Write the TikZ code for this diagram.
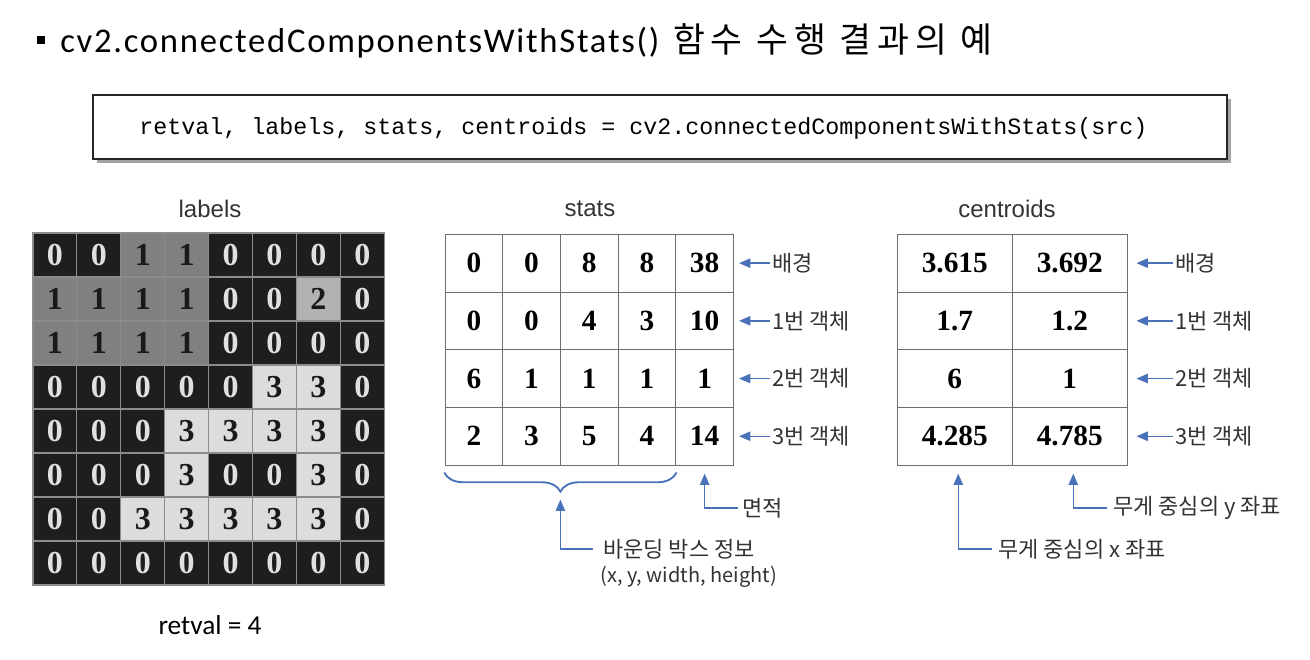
\documentclass[tikz,border=0pt]{standalone}
\usepackage{fontspec}
\setmainfont{Liberation Serif}
\newfontfamily\krfont{Noto Sans CJK KR}
\newfontfamily\krtitlefont[LetterSpace=17]{Noto Sans CJK KR}
\newfontfamily\calfont{Carlito}
\newfontfamily\caltitlefont[LetterSpace=5]{Carlito}
\newfontfamily\headfont{Liberation Sans}
\newfontfamily\codefont{Liberation Mono}
\usetikzlibrary{arrows.meta,decorations.pathreplacing,shadows,calc}

\definecolor{bgcell}{HTML}{1F1D1E}
\definecolor{objone}{HTML}{7F8082}
\definecolor{objtwo}{HTML}{B2B2B2}
\definecolor{objthree}{HTML}{DBDCDD}
\definecolor{gridline}{HTML}{8C8C8C}
\definecolor{tableline}{HTML}{6E6E6E}
\definecolor{pointer}{HTML}{4A72B8}
\definecolor{softtext}{HTML}{333333}

\tikzset{
  % label-map cells
  gcell/.style={rectangle, draw=gridline, line width=0.8pt, inner sep=0pt,
    minimum width=32.9pt, minimum height=33pt,
    font=\fontsize{24}{24}\selectfont\bfseries},
  lv0/.style={fill=bgcell, text=white!88!black},
  lv1/.style={fill=objone, text=black!90},
  lv2/.style={fill=objtwo, text=black!90},
  lv3/.style={fill=objthree, text=black!90},
  % stats / centroids cells
  tcell/.style={rectangle, draw=tableline, line width=0.7pt, inner sep=0pt,
    minimum height=43.3pt, font=\fontsize{22}{22}\selectfont\bfseries},
  scell/.style={tcell, minimum width=43.3pt},
  ccell/.style={tcell, minimum width=86.3pt},
  heading/.style={font=\headfont\fontsize{18}{18}\selectfont, text=softtext},
  note/.style={font=\krfont\fontsize{16.5}{16.5}\selectfont, text=softtext,
    inner sep=0pt, anchor=west},
  ptr/.style={draw=pointer, line width=1.1pt,
    -{Triangle[length=8.5pt,width=7pt]}, color=pointer},
}

\begin{document}
\begin{tikzpicture}[x=0.75pt, y=-0.75pt]
\useasboundingbox (0,0) rectangle (1310,660);

% title line
\node[rectangle, fill=black, minimum size=6pt, inner sep=0pt] (bullet) at (41,40) {};
\node[anchor=base west, inner sep=0pt] (title) at (60,53)
  {\caltitlefont\fontsize{26}{26}\selectfont cv2.connectedComponentsWithStats()\krtitlefont\fontsize{26}{26}\selectfont\ 함수 수행 결과의 예};

% code box with drop shadow
\node[rectangle, draw=black!85, line width=0.9pt, fill=white,
  minimum width=850.5pt, minimum height=48pt,
  drop shadow={shadow xshift=3pt, shadow yshift=-3pt, fill=black!45, opacity=0.8}]
  (codebox) at (660,127) {};
\node[anchor=west, inner sep=0pt] (code) at (139,128)
  {\codefont\fontsize{17.5}{17.5}\selectfont retval, labels, stats, centroids = cv2.connectedComponentsWithStats(src)};

% headings
\node[heading] (hlabels) at (210,209) {labels};
\node[heading] (hstats) at (590,209) {stats};
\node[heading] (hcent) at (1007,209) {centroids};

% label map
\foreach \row [count=\r from 0] in {
  {0,0,1,1,0,0,0,0},
  {1,1,1,1,0,0,2,0},
  {1,1,1,1,0,0,0,0},
  {0,0,0,0,0,3,3,0},
  {0,0,0,3,3,3,3,0},
  {0,0,0,3,0,0,3,0},
  {0,0,3,3,3,3,3,0},
  {0,0,0,0,0,0,0,0}} {
  \foreach \v [count=\c from 0] in \row {
    \node[gcell, lv\v] (g-\r-\c) at ({33+43.9*(\c+0.5)}, {233+44*(\r+0.5)}) {\v};
  }
}
\node[inner sep=0pt, anchor=base] (retval) at (210,634)
  {\calfont\fontsize{20.5}{20.5}\selectfont retval = 4};

% stats table
\foreach \row [count=\r from 0] in {
  {0,0,8,8,38},
  {0,0,4,3,10},
  {6,1,1,1,1},
  {2,3,5,4,14}} {
  \foreach \v [count=\c from 0] in \row {
    \node[scell] (s-\r-\c) at ({445+57.7*(\c+0.5)}, {234.3+57.7*(\r+0.5)}) {\v};
  }
}

% centroids table
\foreach \a/\b [count=\r from 0] in {3.615/3.692, 1.7/1.2, 6/1, 4.285/4.785} {
  \node[ccell] (c-\r-0) at ({897.3+115*0.5}, {234.3+57.7*(\r+0.5)}) {\a};
  \node[ccell] (c-\r-1) at ({897.3+115*1.5}, {234.3+57.7*(\r+0.5)}) {\b};
}

% row notes and their pointers
\foreach \t [count=\r from 0] in {배경, 1번 객체, 2번 객체, 3번 객체} {
  \node[note] (sn-\r) at (772, {234.3+57.7*(\r+0.5)}) {\t};
  \draw[ptr] ([xshift=-1.5pt]sn-\r.west) -- ([xshift=3.8pt]s-\r-4.east);
  \node[note] (cn-\r) at (1175, {234.3+57.7*(\r+0.5)}) {\t};
  \draw[ptr] ([xshift=-1.5pt]cn-\r.west) -- ([xshift=6.5pt]c-\r-1.east);
}

% bounding-box brace
\draw[draw=pointer, line width=1.4pt, line cap=round,
  decorate, decoration={brace, mirror, amplitude=14pt}]
  ([yshift=-5.5pt]s-3-0.south west) -- ([yshift=-5.5pt]s-3-3.south east);
\coordinate (bracetip) at ($(s-3-0.south west)!0.5!(s-3-3.south east) + (0,34)$);
\node[note] (bbox) at (603,549) {바운딩 박스 정보};
\node[note, font=\krfont\fontsize{15}{15}\selectfont] (bboxsub) at (600,577) {(x, y, width, height)};
\draw[ptr] ([xshift=-7.5pt]bbox.west) -| (bracetip);

% area pointer
\node[note] (area) at (742,508) {면적};
\draw[ptr] ([xshift=-3pt]area.west) -| ([yshift=-6pt]s-3-4.south);

% centroid axis pointers
\node[note] (cx) at (998,549) {무게 중심의 x 좌표};
\draw[ptr] ([xshift=-4.5pt]cx.west) -| ([xshift=2.6pt, yshift=-6pt]c-3-0.south);
\node[note] (cy) at (1113,508) {무게 중심의 y 좌표};
\draw[ptr] ([xshift=-4.5pt]cy.west) -| ([xshift=2.6pt, yshift=-6pt]c-3-1.south);
\end{tikzpicture}
\end{document}
